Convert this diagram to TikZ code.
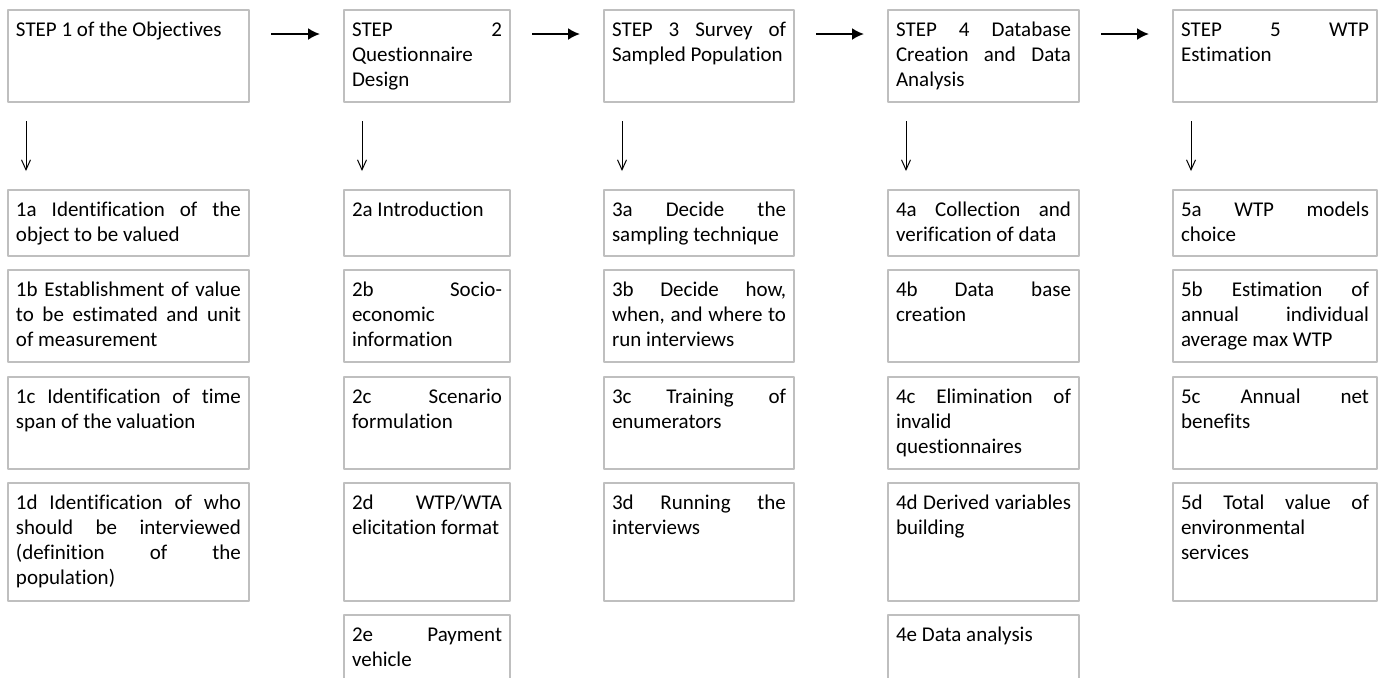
\documentclass[tikz,border=0pt]{standalone}
\usepackage{fontspec}
\setmainfont{Carlito}[Ligatures=NoCommon]
\usetikzlibrary{arrows.meta}
\hyphenpenalty=10000
\tolerance=10000
\definecolor{boxgray}{RGB}{191,191,191}
\newcommand\wordspaces{\spaceskip=1\fontdimen2\font plus 10em minus 0pt\relax}
\tikzset{
  box/.style={draw=boxgray,line width=0.75pt,anchor=north west,outer sep=0pt,
    inner xsep=4pt,inner ysep=0pt,align=justify,text height=13pt,
    font=\fontsize{10.5pt}{12.5pt}\selectfont\wordspaces},
  c1/.style={text width=112.5pt},
  c2/.style={text width=75pt},
  c3/.style={text width=87pt},
  c4/.style={text width=87.5pt},
  c5/.style={text width=94pt},
  hmid/.style={text depth=33pt},
  hlow/.style={text depth=20pt},
  hbig/.style={text depth=46pt},
  hend/.style={text depth=42pt},
  nextstep/.style={line width=1pt,-{Latex[length=6pt,width=6pt]},
    shorten <=11pt,shorten >=12pt},
  substep/.style={line width=0.5pt,-{Straight Barb[length=5pt,width=4.5pt]},
    shorten <=9.5pt,shorten >=9.5pt},
}
\begin{document}
\begin{tikzpicture}[x=0.5pt,y=-0.5pt,line join=bevel]
\useasboundingbox (0,0) rectangle (1385,677);
\clip (0,0) rectangle (1385,677);
%%
\node (step_1) at (8,10) [box,c1,hmid] {STEP 1 of the Objectives};
\node (step_2) at (344,10) [box,c2,hmid] {STEP 2 Questionnaire Design};
\node (step_3) at (604,10) [box,c3,hmid] {STEP 3 Survey of Sampled Population};
\node (step_4) at (888,10) [box,c4,hmid] {STEP 4 Database Creation and Data Analysis};
\node (step_5) at (1173,10) [box,c5,hmid] {STEP 5 WTP Estimation};
%
\node (sub_1a) at (8,190) [box,c1,hlow] {1a Identification of the object to be valued};
\node (sub_1b) at (8,270) [box,c1,hmid] {1b Establishment of value to be estimated and unit of measurement};
\node (sub_1c) at (8,377) [box,c1,hmid] {1c Identification of time span of the valuation};
\node (sub_1d) at (8,483) [box,c1,hbig] {1d Identification of who should be interviewed (definition of the population)};
%
\node (sub_2a) at (344,190) [box,c2,hlow] {2a Introduction};
\node (sub_2b) at (344,270) [box,c2,hmid] {2b Socio-economic information};
\node (sub_2c) at (344,377) [box,c2,hmid] {2c Scenario formulation};
\node (sub_2d) at (344,483) [box,c2,hbig] {2d WTP/WTA elicitation format};
\node (sub_2e) at (344,615) [box,c2,hend] {2e Payment vehicle};
%
\node (sub_3a) at (604,190) [box,c3,hlow] {3a Decide the sampling technique};
\node (sub_3b) at (604,270) [box,c3,hmid] {3b Decide how, when, and where to run interviews};
\node (sub_3c) at (604,377) [box,c3,hmid] {3c Training of enumerators};
\node (sub_3d) at (604,483) [box,c3,hbig] {3d Running the interviews};
%
\node (sub_4a) at (888,190) [box,c4,hlow] {4a Collection and verification of data};
\node (sub_4b) at (888,270) [box,c4,hmid] {4b Data base creation};
\node (sub_4c) at (888,377) [box,c4,hmid] {4c Elimination of\linebreak invalid questionnaires};
\node (sub_4d) at (888,483) [box,c4,hbig] {4d Derived variables building};
\node (sub_4e) at (888,615) [box,c4,hend] {4e Data analysis};
%
\node (sub_5a) at (1173,190) [box,c5,hlow] {5a WTP models choice};
\node (sub_5b) at (1173,270) [box,c5,hmid] {5b Estimation of annual individual average max WTP};
\node (sub_5c) at (1173,377) [box,c5,hmid] {5c Annual net benefits};
\node (sub_5d) at (1173,483) [box,c5,hbig] {5d Total value of\linebreak environmental services};
%
\draw [nextstep] ([yshift=-12pt]step_1.north east) -- ([yshift=-12pt]step_2.north west);
\draw [nextstep] ([yshift=-12pt]step_2.north east) -- ([yshift=-12pt]step_3.north west);
\draw [nextstep] ([yshift=-12pt]step_3.north east) -- ([yshift=-12pt]step_4.north west);
\draw [nextstep] ([yshift=-12pt]step_4.north east) -- ([yshift=-12pt]step_5.north west);
%
\draw [substep] ([xshift=9pt]step_1.south west) -- ([xshift=9pt]sub_1a.north west);
\draw [substep] ([xshift=9pt]step_2.south west) -- ([xshift=9pt]sub_2a.north west);
\draw [substep] ([xshift=9pt]step_3.south west) -- ([xshift=9pt]sub_3a.north west);
\draw [substep] ([xshift=9pt]step_4.south west) -- ([xshift=9pt]sub_4a.north west);
\draw [substep] ([xshift=9pt]step_5.south west) -- ([xshift=9pt]sub_5a.north west);
%
\end{tikzpicture}
\end{document}
